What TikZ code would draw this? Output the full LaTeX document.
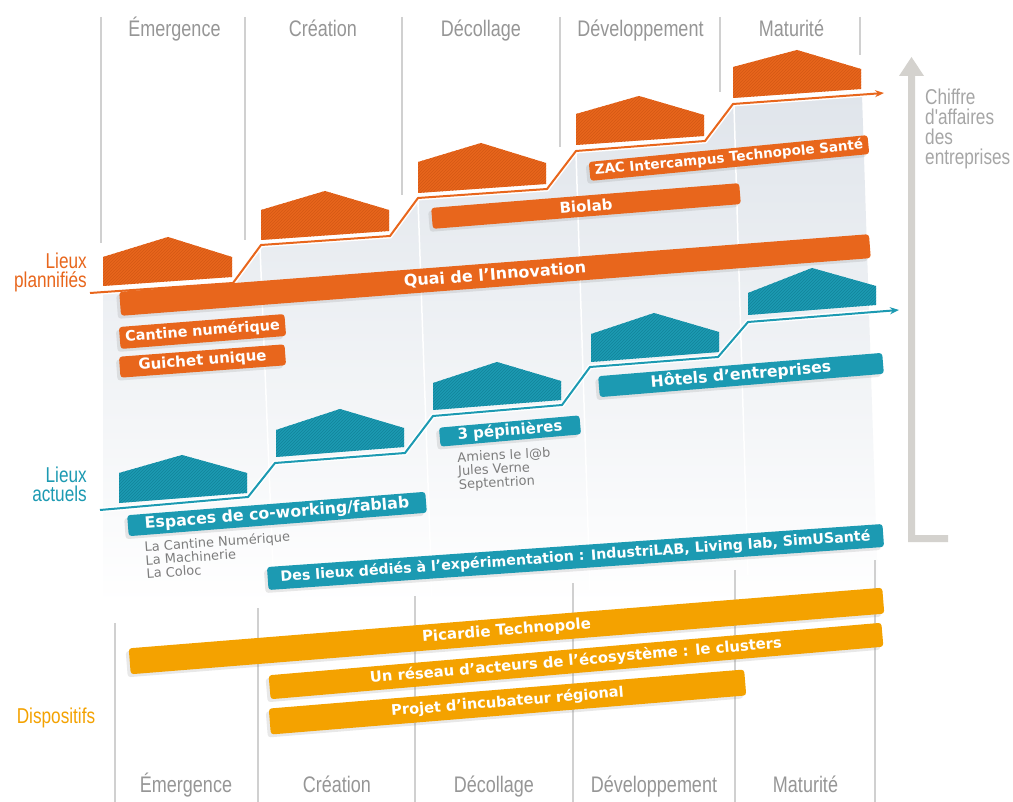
\documentclass[tikz,border=0pt]{standalone}
\usepackage{fontspec}
\setmainfont{DejaVu Sans}
\newfontfamily\condfont[FakeStretch=0.8]{Liberation Sans}
\usetikzlibrary{arrows.meta,patterns,shadows}
\definecolor{cOr}{RGB}{232,102,28}
\definecolor{cOrD}{RGB}{212,88,20}
\definecolor{cTe}{RGB}{28,154,178}
\definecolor{cTeD}{RGB}{18,132,154}
\definecolor{cYe}{RGB}{244,162,0}
\definecolor{cGrTxt}{RGB}{150,150,150}
\definecolor{cGrLine}{RGB}{208,208,208}
\definecolor{cPanTop}{RGB}{224,229,235}
\definecolor{cPanMid}{RGB}{233,234,237}
\definecolor{cArrow}{RGB}{212,210,206}
\definecolor{cSub}{RGB}{125,125,125}
\newcommand\myhouse[7]{%
  \fill[#1] #3 -- #4 -- #5 -- #6 -- #7 -- cycle;
  \fill[pattern=north east lines, pattern color=#2] #3 -- #4 -- #5 -- #6 -- #7 -- cycle;}
\tikzset{
  phase/.style={font=\condfont\fontsize{22.5}{24}\selectfont, text=cGrTxt, inner sep=0pt},
  bar/.style={rounded corners=3pt, inner sep=0pt, text=white,
    font=\bfseries\fontsize{15}{17}\selectfont,
    drop shadow={shadow xshift=-3pt, shadow yshift=-3pt, opacity=0.18}},
  obar/.style={bar, fill=cOr},
  tbar/.style={bar, fill=cTe},
  ybar/.style={bar, fill=cYe},
  divider/.style={cGrLine, line width=1.3pt},
  side/.style={font=\condfont\fontsize{21.5}{19}\selectfont, align=right, inner sep=0pt},
  sublist/.style={font=\fontsize{13}{13.5}\selectfont, text=cSub, align=left, inner sep=0pt},
  stair/.style={line width=2pt},
}
\begin{document}
\begin{tikzpicture}[x=1pt,y=-1pt]
\useasboundingbox (0,0) rectangle (1013,802);
\fill[white] (0,0) rectangle (1013,802);

% background panel
\shade[top color=cPanTop, middle color=cPanMid, bottom color=white]
  (103,293) -- (233,284) -- (261,246) -- (390,237) -- (418,199) -- (547,190)
  -- (576,152) -- (705,142) -- (733,105) -- (862,95) -- (877,560) -- (877,605)
  -- (103,605) -- cycle;
\foreach \a/\b/\c/\d in {260/247/274/592, 418/200/432/596, 576/153/590/590, 734/106/748/575}
  \draw[white, line width=1.5pt] (\a,\b) -- (\c,\d);

% dividers
\draw[divider] (101,17) -- (101,243);
\draw[divider] (245,17) -- (245,240);
\draw[divider] (402,17) -- (402,195);
\draw[divider] (560,17) -- (560,147);
\draw[divider] (720,17) -- (720,92);
\draw[divider] (860,17) -- (860,55);
\draw[divider] (115,623) -- (115,802);
\draw[divider] (258,608) -- (258,802);
\draw[divider] (415,596) -- (415,802);
\draw[divider] (573,583) -- (573,802);
\draw[divider] (735,570) -- (735,802);
\draw[divider] (875,560) -- (875,802);

% phase labels
\node[phase, anchor=base] (t1) at (174.5,37) {Émergence};
\node[phase, anchor=base] (t2) at (323,37) {Création};
\node[phase, anchor=base] (t3) at (481,37) {Décollage};
\node[phase, anchor=base] (t4) at (640.5,37) {Développement};
\node[phase, anchor=base] (t5) at (791.5,37) {Maturité};
\node[phase, anchor=base] (b1) at (186,792) {Émergence};
\node[phase, anchor=base] (b2) at (337,792) {Création};
\node[phase, anchor=base] (b3) at (494,792) {Décollage};
\node[phase, anchor=base] (b4) at (654,792) {Développement};
\node[phase, anchor=base] (b5) at (805.5,792) {Maturité};

% orange houses
\myhouse{cOr}{cOrD}{(103,286)}{(232,277)}{(232,257)}{(168,237)}{(103,257)}
\myhouse{cOr}{cOrD}{(261,240)}{(389,231)}{(389,210)}{(325,191)}{(261,210)}
\myhouse{cOr}{cOrD}{(418,193)}{(546,184)}{(546,163)}{(481,143)}{(418,162)}
\myhouse{cOr}{cOrD}{(576,145)}{(704,136)}{(704,115)}{(639,96)}{(576,114)}
\myhouse{cOr}{cOrD}{(733,98)}{(861,89)}{(861,69)}{(797,50)}{(733,67)}

% teal houses
\myhouse{cTe}{cTeD}{(119,503)}{(247,493)}{(247,473)}{(182,455)}{(119,473)}
\myhouse{cTe}{cTeD}{(276,457)}{(404,447)}{(404,428)}{(340,409)}{(276,430)}
\myhouse{cTe}{cTeD}{(433,410)}{(561,400)}{(561,381)}{(497,362)}{(433,383)}
\myhouse{cTe}{cTeD}{(591,362)}{(719,352)}{(719,332)}{(654,313)}{(591,334)}
\myhouse{cTe}{cTeD}{(748,315)}{(876,305)}{(876,286)}{(812,268)}{(748,293)}

% staircases
\draw[white, line width=5pt] (90,293) -- (233,283) -- (261,245) -- (390,236) -- (418,198)
  -- (547,189) -- (576,151) -- (705,141) -- (733,104) -- (870,94);
\draw[cOr, stair, -{Stealth[length=9pt,width=7pt]}] (90,293) -- (233,283) -- (261,245)
  -- (390,236) -- (418,198) -- (547,189) -- (576,151) -- (705,141) -- (733,104) -- (884,93);
\draw[white, line width=5pt] (100,510) -- (248,497) -- (275,463) -- (405,453) -- (433,416)
  -- (562,405) -- (590,367) -- (718,357) -- (748,322) -- (885,311);
\draw[cTe, stair, -{Stealth[length=9pt,width=7pt]}] (100,510) -- (248,497) -- (275,463)
  -- (405,453) -- (433,416) -- (562,405) -- (590,367) -- (718,357) -- (748,322) -- (899,310);

% big grey arrow
\fill[cArrow] (908,76) -- (899,76) -- (911.5,57) -- (924,76) -- (915,76) -- (915,535)
  -- (948,535) -- (948,542) -- (908,542) -- cycle;
\node[font=\condfont\fontsize{21.5}{20}\selectfont, text=cGrTxt!85, align=left,
  inner sep=0pt, anchor=north west] (ca) at (925,89) {Chiffre\\d'affaires\\des\\entreprises};

% side labels
\node[side, text=cOr, anchor=north east] (lp) at (87,253) {Lieux\\plannifiés};
\node[side, text=cTe, anchor=north east] (la) at (87,467) {Lieux\\actuels};
\node[side, text=cYe] (dp) at (56,718) {Dispositifs};

% orange bars
\node[obar, minimum width=752pt, minimum height=24pt, rotate=4.4, font=\bfseries\fontsize{16}{18}\selectfont] (quai) at (495,275) {Quai de l'Innovation};
\node[obar, minimum width=309pt, minimum height=21pt, rotate=4.6] (bio) at (586,206) {Biolab};
\node[obar, minimum width=280pt, minimum height=19pt, rotate=5.5, font=\bfseries\fontsize{13.5}{15}\selectfont] (zac) at (729,158) {ZAC Intercampus Technopole Santé};
\node[obar, minimum width=166pt, minimum height=22pt, rotate=4.5, font=\bfseries\fontsize{14.4}{16}\selectfont] (cant) at (202.5,331.5) {Cantine numérique};
\node[obar, minimum width=166pt, minimum height=21pt, rotate=4.3] (gui) at (202.5,361) {Guichet unique};

% teal bars
\node[tbar, minimum width=299pt, minimum height=21pt, rotate=4.5, font=\bfseries\fontsize{15.8}{17}\selectfont] (esp) at (277,514) {Espaces de co-working/fablab};
\node[tbar, minimum width=141pt, minimum height=19pt, rotate=5] (pep) at (510,431) {3 pépinières};
\node[tbar, minimum width=285pt, minimum height=21pt, rotate=4.7, font=\bfseries\fontsize{15.7}{17}\selectfont] (hot) at (741,375) {Hôtels d'entreprises};
\node[tbar, minimum width=617pt, minimum height=23pt, rotate=4, font=\bfseries\fontsize{14.2}{16}\selectfont] (exp) at (575.5,557) {Des lieux dédiés à l'expérimentation : IndustriLAB, Living lab, SimUSanté};

% sub lists
\node[sublist, rotate=4, anchor=north west] (l1) at (144,541) {La Cantine Numérique\\La Machinerie\\La Coloc};
\node[sublist, rotate=3, anchor=north west] (l2) at (457,452) {Amiens le l@b\\Jules Verne\\Septentrion};

% yellow bars
\node[ybar, minimum width=756pt, minimum height=26pt, rotate=4.6] (pic) at (506.5,631) {Picardie Technopole};
\node[ybar, minimum width=615pt, minimum height=24pt, rotate=4.9, font=\bfseries\fontsize{14.8}{16}\selectfont] (res) at (576,661) {Un réseau d'acteurs de l'écosystème : le clusters};
\node[ybar, minimum width=477pt, minimum height=26pt, rotate=4.7, font=\bfseries\fontsize{14.6}{16}\selectfont] (inc) at (507.5,702) {Projet d'incubateur régional};
\end{tikzpicture}
\end{document}
